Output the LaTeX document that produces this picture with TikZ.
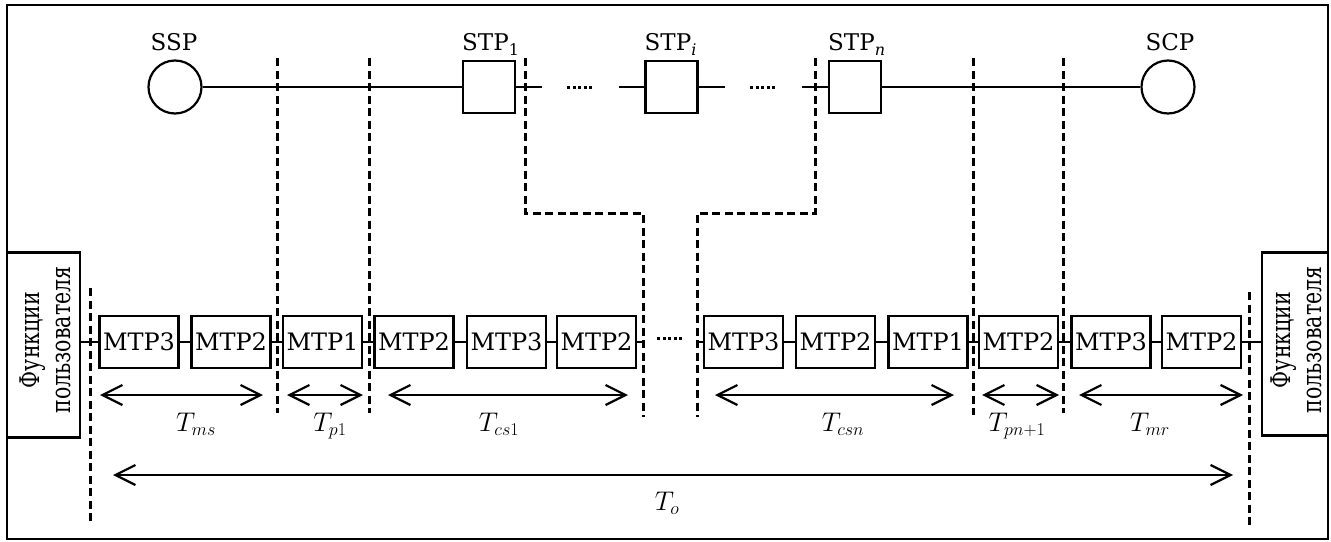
\RequirePackage{fix-cm}
\documentclass[tikz,border=0pt]{standalone}
\usepackage[no-math]{fontspec}
\usetikzlibrary{arrows.meta}
\setmainfont{DejaVu Serif}
\DeclareMathSizes{27}{27}{18}{13}
% subscript of a signalling point label
\newcommand{\spsub}[1]{\raisebox{-5pt}{\fontsize{16}{16}\selectfont #1}}
\begin{document}
\begin{tikzpicture}[x=1pt,y=-1pt,
  lbl/.style={font=\fontsize{23}{28}\selectfont, inner sep=0pt},
  mtp/.style={draw, line width=2.2pt, minimum width=79pt, minimum height=52pt, inner sep=0pt, font=\fontsize{24}{28}\selectfont},
  stp/.style={draw, line width=2.2pt, minimum size=52pt, inner sep=0pt},
  sp/.style={draw, circle, line width=2.2pt, minimum size=53pt, inner sep=0pt},
  userbox/.style={draw, line width=2.2pt, inner sep=0pt},
  usertext/.style={rotate=90, align=center, inner sep=0pt, font=\fontsize{27}{31}\selectfont},
  wire/.style={line width=2.2pt},
  sep/.style={line width=3pt, dash pattern=on 8pt off 4.5pt},
  dotrow/.style={line width=3pt, dash pattern=on 3pt off 2.5pt},
  span/.style={line width=2.2pt, {Straight Barb[length=20pt,width=20pt]}-{Straight Barb[length=20pt,width=20pt]}},
  tlbl/.style={font=\fontsize{27}{32}\selectfont, anchor=base, inner sep=0pt}
]
\useasboundingbox (0,0) rectangle (1331,541);
\fill[white] (0,0) rectangle (1331,541);
% outer frame
\draw[line width=2.2pt] (7,5) rectangle (1328,539);

% ---- signalling points on the route
\node[sp]  (ssp) at (175,87) {};
\node[stp] (s1)  at (489,87) {};
\node[stp] (si)  at (671.5,87) {};
\node[stp] (sn)  at (855,87) {};
\node[sp]  (scp) at (1168,87) {};

\node[lbl, anchor=base]      (lssp) at (174,50) {SSP};
\node[lbl, anchor=base west] (ls1)  at (462,50) {STP\spsub{1}};
\node[lbl, anchor=base west] (lsi)  at (644.5,50) {STP\spsub{\itshape i}};
\node[lbl, anchor=base west] (lsn)  at (828,50) {STP\spsub{\itshape n}};
\node[lbl, anchor=base]      (lscp) at (1170,50) {SCP};

\coordinate (w1) at (542,87);
\coordinate (p1a) at (567,87);
\coordinate (p1b) at (594,87);
\coordinate (w2) at (619,87);
\coordinate (w3) at (725,87);
\coordinate (p2a) at (750,87);
\coordinate (p2b) at (777,87);
\coordinate (w4) at (802,87);

\draw[wire] (ssp) -- (s1);
\draw[wire] (s1.east) -- (w1);
\draw[dotrow] (p1a) -- (p1b);
\draw[wire] (w2) -- (si.west);
\draw[wire] (si.east) -- (w3);
\draw[dotrow] (p2a) -- (p2b);
\draw[wire] (w4) -- (sn.west);
\draw[wire] (sn) -- (scp);

% ---- user parts at both ends
\node[userbox, minimum width=73pt, minimum height=185pt] (uL) at (43.5,345) {};
\node[userbox, minimum width=66pt, minimum height=183pt] (uR) at (1295,344) {};
\node[usertext] (tL) at (45,340) {\scalebox{0.76}[1]{Функции}\\\scalebox{0.76}[1]{пользователя}};
\node[usertext] (tR) at (1296,340) {\scalebox{0.76}[1]{Функции}\\\scalebox{0.76}[1]{пользователя}};

% ---- MTP levels
\node[mtp] (m1)  at (139,342)    {MTP3};
\node[mtp] (m2)  at (231,342)    {MTP2};
\node[mtp] (m3)  at (322.5,342)  {MTP1};
\node[mtp] (m4)  at (414,342)    {MTP2};
\node[mtp] (m5)  at (506.5,342)  {MTP3};
\node[mtp] (m6)  at (596.5,342)  {MTP2};
\node[mtp] (m7)  at (743.5,342)  {MTP3};
\node[mtp] (m8)  at (835.5,342)  {MTP2};
\node[mtp] (m9)  at (928,342)    {MTP1};
\node[mtp] (m10) at (1018.5,342) {MTP2};
\node[mtp] (m11) at (1111,342)   {MTP3};
\node[mtp] (m12) at (1201.5,342) {MTP2};

\coordinate (e1) at (642,342);
\coordinate (e2) at (697,342);
\coordinate (q1) at (657,338);
\coordinate (q2) at (683,338);

\draw[wire] (uL.east |- m1.west) -- (m1.west);
\draw[wire] (m1) -- (m2);
\draw[wire] (m2) -- (m3);
\draw[wire] (m3) -- (m4);
\draw[wire] (m4) -- (m5);
\draw[wire] (m5) -- (m6);
\draw[wire] (m6.east) -- (e1);
\draw[dotrow] (q1) -- (q2);
\draw[wire] (e2) -- (m7.west);
\draw[wire] (m7) -- (m8);
\draw[wire] (m8) -- (m9);
\draw[wire] (m9) -- (m10);
\draw[wire] (m10) -- (m11);
\draw[wire] (m11) -- (m12);
\draw[wire] (m12.east) -- (uR.west |- m12.east);

% ---- boundaries between the delay components
\draw[sep] (277,58) -- (277,413);
\draw[sep] (369,58) -- (369,413);
\draw[sep] (525,58) -- (525,213) -- (643,213) -- (643,417);
\draw[sep] (815,58) -- (815,213) -- (697,213) -- (697,417);
\draw[sep] (973,58) -- (973,415);
\draw[sep] (1063,58) -- (1063,413);
\draw[sep] (90,288) -- (90,522);
\draw[sep] (1249,292) -- (1249,527);

% ---- delay components
\coordinate (a1) at (100,395);  \coordinate (b1) at (263,395);
\coordinate (a2) at (287,395);  \coordinate (b2) at (363,395);
\coordinate (a3) at (388,395);  \coordinate (b3) at (628,395);
\coordinate (a4) at (715,395);  \coordinate (b4) at (954,395);
\coordinate (a5) at (982,395);  \coordinate (b5) at (1059,395);
\coordinate (a6) at (1079,395); \coordinate (b6) at (1243,395);
\coordinate (a7) at (113,475);  \coordinate (b7) at (1233,475);

\draw[span] (a1) -- (b1);
\draw[span] (a2) -- (b2);
\draw[span] (a3) -- (b3);
\draw[span] (a4) -- (b4);
\draw[span] (a5) -- (b5);
\draw[span] (a6) -- (b6);
\draw[span] (a7) -- (b7);

\node[tlbl] (tms)  at (196,431)  {$T_{ms}$};
\node[tlbl] (tp1)  at (330,431)  {$T_{p1}$};
\node[tlbl] (tcs1) at (499,431)  {$T_{cs1}$};
\node[tlbl] (tcsn) at (843,431)  {$T_{csn}$};
\node[tlbl] (tpn)  at (1017,431) {$T_{pn+1}$};
\node[tlbl] (tmr)  at (1150,431) {$T_{mr}$};
\node[tlbl] (to)   at (667,510)  {$T_o$};
\end{tikzpicture}
\end{document}
